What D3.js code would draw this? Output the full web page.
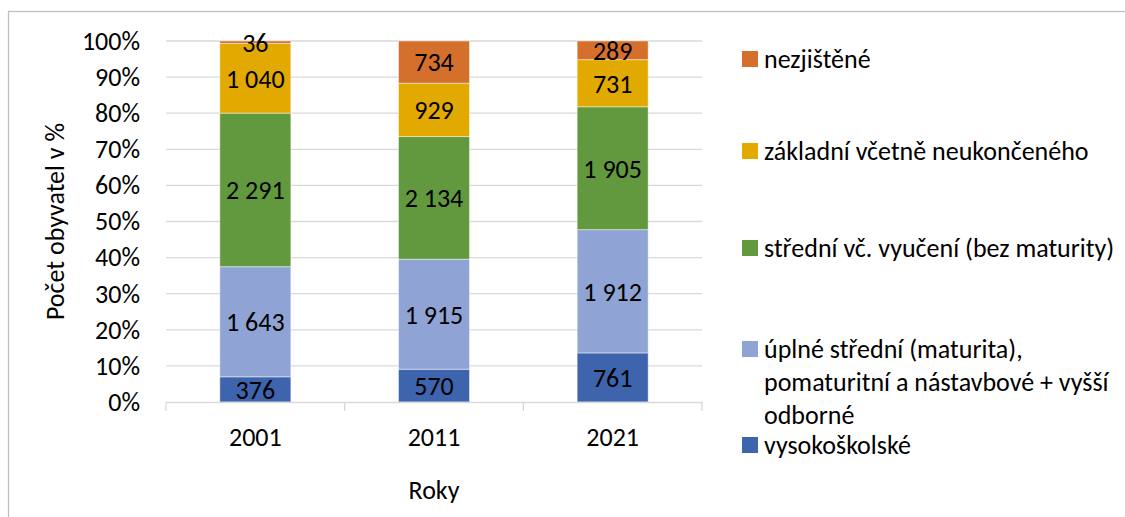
<!DOCTYPE html>
<html>
<head>
<meta charset="utf-8">
<script src="https://cdn.jsdelivr.net/npm/d3@7"></script>
<style>
  body { margin: 0; background: #fff; }
  svg { font-family: Carlito, Lato, sans-serif; }
</style>
</head>
<body>
<div class="chart"></div>
<script>
// data
var years = ["2001", "2011", "2021"];
var seriesNames = ["vysokoškolské",
  "úplné střední (maturita), pomaturitní a nástavbové + vyšší odborné",
  "střední vč. vyučení (bez maturity)",
  "základní včetně neukončeného",
  "nezjištěné"];
var vysokoskolske = [376, 570, 761];
var uplneStredni = [1643, 1915, 1912];
var stredni = [2291, 2134, 1905];
var zakladni = [1040, 929, 731];
var nezjistene = [36, 734, 289];
var colors = ["#3E64AD", "#8FA4D4", "#62993E", "#E2A900", "#D5702C"];
var yTicks = [0, 0.1, 0.2, 0.3, 0.4, 0.5, 0.6, 0.7, 0.8, 0.9, 1];

var svgWidth = 1125;
var svgHeight = 517;
var margin = { top: 41, left: 166, right: 423, bottom: 115 };
var width = svgWidth - margin.left - margin.right;
var height = svgHeight - margin.top - margin.bottom;
var fs = 26;

var svg = d3.select(".chart")
    .append("svg")
    .attr("width", svgWidth)
    .attr("height", svgHeight);

// outer frame
svg.append("rect")
    .attr("x", 8.5).attr("y", 11.5)
    .attr("width", svgWidth).attr("height", svgHeight)
    .attr("fill", "none")
    .attr("stroke", "#bfbfbf")
    .attr("stroke-width", 1.3);

var chart = svg.append("g")
    .attr("transform", "translate(" + margin.left + "," + margin.top + ")");

// build table of shares
var allSeries = [vysokoskolske, uplneStredni, stredni, zakladni, nezjistene];
var table = years.map(function(y, i) {
    var row = { year: y };
    allSeries.forEach(function(s, k) { row["s" + k] = s[i]; });
    return row;
});
var keys = allSeries.map(function(s, k) { return "s" + k; });
var stack = d3.stack().keys(keys).offset(d3.stackOffsetExpand);
var stacked = stack(table);

var xScale = d3.scaleBand().domain(years).range([0, width]).paddingInner(0).paddingOuter(0);
var yScale = d3.scaleLinear().domain([0, 1]).range([height, 0]);

// gridlines
chart.selectAll(".grid")
    .data(yTicks.slice(1))
    .enter()
    .append("line")
    .attr("x1", 0).attr("x2", width)
    .attr("y1", function(d) { return yScale(d); })
    .attr("y2", function(d) { return yScale(d); })
    .attr("stroke", "#d9d9d9")
    .attr("stroke-width", 1.3);

// y axis labels
var leftAxis = d3.axisLeft(yScale).tickValues(yTicks).tickFormat(d3.format(".0%")).tickSize(0).tickPadding(26);
var yAxis = chart.append("g").call(leftAxis);
yAxis.select(".domain").remove();
yAxis.selectAll("text").attr("font-size", fs).attr("fill", "#000").attr("font-family", "Carlito, Lato, sans-serif");

// bars
var barW = 71;
var layers = chart.selectAll(".layer")
    .data(stacked)
    .enter()
    .append("g")
    .attr("fill", function(d, i) { return colors[i]; });

layers.selectAll("rect")
    .data(function(d) { return d; })
    .enter()
    .append("rect")
    .attr("x", function(d) { return xScale(d.data.year) + xScale.bandwidth() / 2 - barW / 2; })
    .attr("y", function(d) { return yScale(d[1]); })
    .attr("height", function(d) { return yScale(d[0]) - yScale(d[1]); })
    .attr("width", barW)
    .attr("stroke", "rgba(255,255,255,0.45)")
    .attr("stroke-width", 1);

// value labels
stacked.forEach(function(layer, k) {
    chart.selectAll(".lab" + k)
        .data(layer)
        .enter()
        .append("text")
        .attr("x", function(d) { return xScale(d.data.year) + xScale.bandwidth() / 2; })
        .attr("y", function(d) { return (yScale(d[0]) + yScale(d[1])) / 2; })
        .attr("dy", "0.36em")
        .attr("text-anchor", "middle")
        .attr("font-size", fs)
        .text(function(d) { return d3.format(",")(d.data[layer.key]).replace(/,/g, " "); });
});

// x axis
var bottomAxis = d3.axisBottom(xScale).tickSize(0).tickPadding(26);
var xAxis = chart.append("g")
    .attr("transform", "translate(0," + height + ")")
    .call(bottomAxis);
xAxis.select(".domain").attr("stroke", "#d9d9d9").attr("stroke-width", 1.3);
xAxis.selectAll("text").attr("font-size", fs).attr("fill", "#000").attr("font-family", "Carlito, Lato, sans-serif")
    .attr("y", 35).attr("dy", "0.36em");
// tick marks at band edges
chart.selectAll(".xtick")
    .data(years.map(function(y) { return xScale(y); }).concat([width]))
    .enter()
    .append("line")
    .attr("x1", function(d) { return d; }).attr("x2", function(d) { return d; })
    .attr("y1", height).attr("y2", height + 9)
    .attr("stroke", "#d9d9d9")
    .attr("stroke-width", 1.3);

// axis titles
svg.append("text")
    .attr("x", margin.left + width / 2)
    .attr("y", 490)
    .attr("dy", "0.36em")
    .attr("text-anchor", "middle")
    .attr("font-size", fs)
    .text("Roky");

svg.append("text")
    .attr("transform", "translate(55," + (margin.top + height / 2) + ") rotate(-90)")
    .attr("dy", "0.36em")
    .attr("text-anchor", "middle")
    .attr("font-size", fs)
    .text("Počet obyvatel v %");

// legend (top to bottom, reversed order)
var legendItems = [
    { k: 4, y: 59, lines: ["nezjištěné"] },
    { k: 3, y: 151, lines: ["základní včetně neukončeného"] },
    { k: 2, y: 248, lines: ["střední vč. vyučení (bez maturity)"] },
    { k: 1, y: 349, lines: ["úplné střední (maturita),", "pomaturitní a nástavbové + vyšší", "odborné"] },
    { k: 0, y: 445, lines: ["vysokoškolské"] }
];
var legend = svg.append("g");
legendItems.forEach(function(item) {
    legend.append("rect")
        .attr("x", 742).attr("y", item.y - 8)
        .attr("width", 16).attr("height", 16)
        .attr("fill", colors[item.k]);
    item.lines.forEach(function(line, j) {
        legend.append("text")
            .attr("x", 764)
            .attr("y", item.y + j * 33)
            .attr("dy", "0.36em")
            .attr("font-size", fs)
            .text(line);
    });
});
</script>
</body>
</html>
